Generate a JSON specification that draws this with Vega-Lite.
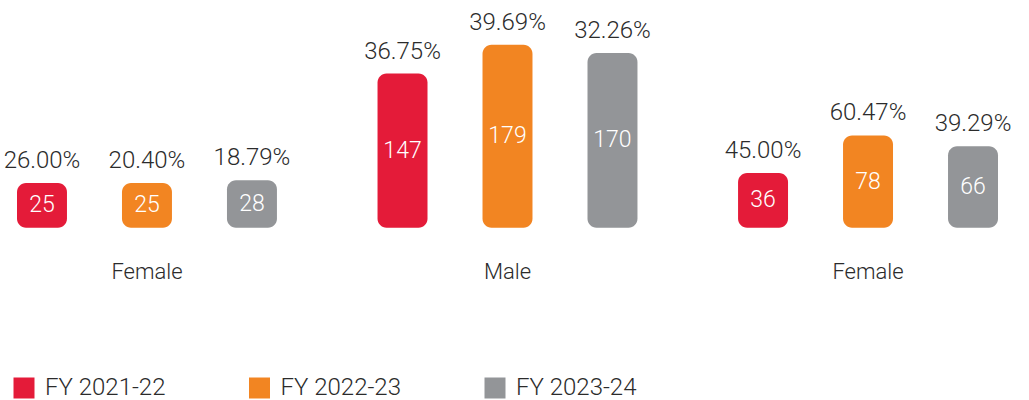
{
  "$schema": "https://vega.github.io/schema/vega-lite/v6.json",
  "autosize": {"type": "none"},
  "width": 981,
  "height": 400,
  "padding": {"left": 17, "top": 0, "right": 31, "bottom": 0},
  "background": "#ffffff",
  "config": {
    "view": {"stroke": null},
    "font": "Roboto",
    "text": {"font": "Roboto", "fontWeight": 300}
  },
  "data": {
    "values": [
      {"panel": "A", "gender": "Female", "year": "FY 2021-22", "count": 25, "pct": "26.00%"},
      {"panel": "A", "gender": "Female", "year": "FY 2022-23", "count": 25, "pct": "20.40%"},
      {"panel": "A", "gender": "Female", "year": "FY 2023-24", "count": 28, "pct": "18.79%"},
      {"panel": "B", "gender": "Male", "year": "FY 2021-22", "count": 147, "pct": "36.75%"},
      {"panel": "B", "gender": "Male", "year": "FY 2022-23", "count": 179, "pct": "39.69%"},
      {"panel": "B", "gender": "Male", "year": "FY 2023-24", "count": 170, "pct": "32.26%"},
      {"panel": "C", "gender": "Female", "year": "FY 2021-22", "count": 36, "pct": "45.00%"},
      {"panel": "C", "gender": "Female", "year": "FY 2022-23", "count": 78, "pct": "60.47%"},
      {"panel": "C", "gender": "Female", "year": "FY 2023-24", "count": 66, "pct": "39.29%"}
    ]
  },
  "resolve": {"scale": {"y": "independent"}},
  "encoding": {
    "x": {"field": "panel", "type": "nominal", "axis": null,
          "scale": {"paddingInner": 0.279, "paddingOuter": 0}}
  },
  "layer": [
    {
      "mark": {"type": "bar", "cornerRadius": 9},
      "encoding": {
        "xOffset": {"field": "year", "type": "nominal",
                    "scale": {"paddingInner": 0.524, "paddingOuter": 0}},
        "y": {"field": "count", "type": "quantitative", "axis": null,
              "scale": {"domain": [-217, 229], "zero": false, "nice": false}},
        "y2": {"datum": -25},
        "color": {
          "field": "year", "type": "nominal",
          "scale": {"domain": ["FY 2021-22", "FY 2022-23", "FY 2023-24"],
                    "range": ["#e41b39", "#f28522", "#939598"]},
          "legend": {
            "title": null, "orient": "none", "legendX": -5, "legendY": 376,
            "direction": "horizontal", "symbolType": "square", "symbolSize": 441,
            "symbolStrokeWidth": 0, "labelFontSize": 24, "labelFont": "Roboto",
            "labelFontWeight": 300, "labelColor": "#2b2b2b", "labelOffset": 9,
            "columnPadding": 81.5, "padding": 0
          }
        }
      }
    },
    {
      "mark": {"type": "text", "fontSize": 24, "color": "#2b2b2b", "baseline": "alphabetic", "dy": -15},
      "encoding": {
        "xOffset": {"field": "year", "type": "nominal",
                    "scale": {"paddingInner": 0.524, "paddingOuter": 0}},
        "y": {"field": "count", "type": "quantitative", "axis": null,
              "scale": {"domain": [-217, 229], "zero": false, "nice": false}},
        "text": {"field": "pct"}
      }
    },
    {
      "mark": {"type": "text", "fontSize": 23, "color": "#ffffff", "baseline": "middle"},
      "encoding": {
        "xOffset": {"field": "year", "type": "nominal",
                    "scale": {"paddingInner": 0.524, "paddingOuter": 0}},
        "y": {"field": "count", "type": "quantitative", "axis": null,
              "scale": {"domain": [-409, 483], "zero": false, "nice": false}},
        "text": {"field": "count"}
      }
    },
    {
      "transform": [{"filter": "datum.year === 'FY 2022-23'"}],
      "mark": {"type": "text", "fontSize": 22, "color": "#2b2b2b", "baseline": "alphabetic"},
      "encoding": {
        "y": {"datum": -82, "type": "quantitative", "axis": null,
              "scale": {"domain": [-217, 229], "zero": false, "nice": false}},
        "text": {"field": "gender"}
      }
    }
  ]
}
